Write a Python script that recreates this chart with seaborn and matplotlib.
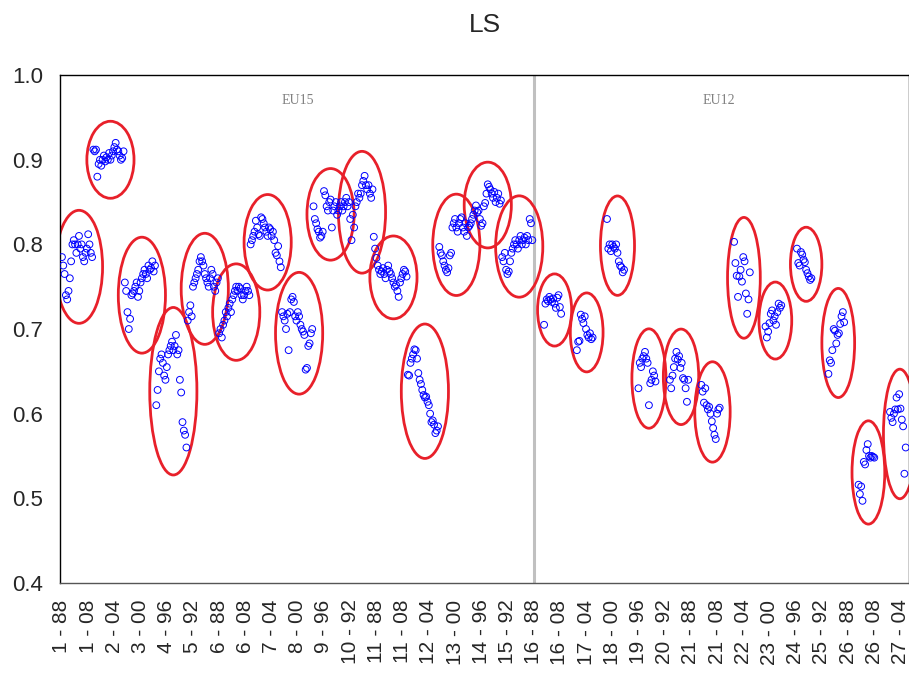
import numpy as np
import pandas as pd
import matplotlib
matplotlib.use("Agg")
import matplotlib.pyplot as plt
from matplotlib.patches import Ellipse
import seaborn as sns

# ---------------- data ----------------
years_per_country = 24          # 1988 .. 2011 for every country
base_year = 1988
eu15_countries = list(range(1, 16))
eu12_countries = list(range(16, 28))

# first observed year of each country
first_year = {c: 1988 for c in eu15_countries}
first_year.update({16: 1996, 17: 1997, 18: 1996, 19: 1996, 20: 1996, 21: 1996,
                   22: 1997, 23: 1997, 24: 1997, 25: 1997, 26: 1996, 27: 1996})

ls_01 = [0.785, 0.775, 0.765, 0.74, 0.735, 0.745, 0.76, 0.78, 0.80, 0.805, 0.80, 0.79,
         0.80, 0.81, 0.795, 0.80, 0.785, 0.78, 0.79, 0.795, 0.812, 0.80, 0.79, 0.785]
ls_02 = [0.912, 0.91, 0.912, 0.88, 0.895, 0.90, 0.893, 0.90, 0.905, 0.898, 0.903, 0.90,
         0.908, 0.90, 0.905, 0.91, 0.915, 0.92, 0.912, 0.91, 0.905, 0.90, 0.902, 0.91]
ls_03 = [0.755, 0.745, 0.72, 0.70, 0.712, 0.74, 0.742, 0.745, 0.75, 0.755, 0.738, 0.745,
         0.755, 0.76, 0.765, 0.77, 0.765, 0.76, 0.775, 0.77, 0.772, 0.78, 0.768, 0.775]
ls_04 = [0.61, 0.628, 0.65, 0.665, 0.67, 0.66, 0.645, 0.64, 0.655, 0.67, 0.675, 0.68,
         0.685, 0.675, 0.68, 0.693, 0.67, 0.675, 0.64, 0.625, 0.59, 0.58, 0.575, 0.56]
ls_05 = [0.71, 0.72, 0.728, 0.715, 0.75, 0.755, 0.76, 0.765, 0.77, 0.78, 0.785, 0.78,
         0.775, 0.765, 0.76, 0.755, 0.75, 0.76, 0.77, 0.765, 0.75, 0.745, 0.755, 0.76]
ls_06 = [0.695, 0.70, 0.69, 0.705, 0.71, 0.72, 0.715, 0.725, 0.73, 0.72, 0.735, 0.74,
         0.745, 0.75, 0.745, 0.75, 0.748, 0.74, 0.735, 0.74, 0.745, 0.75, 0.745, 0.74]
ls_07 = [0.80, 0.805, 0.81, 0.815, 0.828, 0.82, 0.812, 0.81, 0.832, 0.83, 0.825, 0.82,
         0.815, 0.81, 0.82, 0.818, 0.81, 0.815, 0.805, 0.79, 0.787, 0.798, 0.78, 0.773]
ls_08 = [0.72, 0.715, 0.71, 0.70, 0.718, 0.675, 0.72, 0.735, 0.738, 0.732, 0.715, 0.71,
         0.72, 0.715, 0.705, 0.70, 0.697, 0.693, 0.652, 0.654, 0.68, 0.683, 0.695, 0.70]
ls_09 = [0.845, 0.83, 0.825, 0.818, 0.815, 0.808, 0.81, 0.815, 0.863, 0.858, 0.845, 0.84,
         0.85, 0.853, 0.82, 0.84, 0.845, 0.85, 0.835, 0.84, 0.845, 0.85, 0.84, 0.845]
ls_10 = [0.85, 0.855, 0.845, 0.85, 0.83, 0.805, 0.835, 0.82, 0.845, 0.85, 0.86, 0.855,
         0.86, 0.87, 0.875, 0.881, 0.87, 0.865, 0.87, 0.86, 0.855, 0.865, 0.809, 0.795]
ls_11 = [0.784, 0.775, 0.77, 0.765, 0.768, 0.772, 0.765, 0.76, 0.77, 0.775, 0.768, 0.765,
         0.76, 0.755, 0.75, 0.752, 0.745, 0.738, 0.755, 0.76, 0.765, 0.77, 0.768, 0.762]
ls_12 = [0.646, 0.645, 0.66, 0.665, 0.67, 0.676, 0.675, 0.665, 0.648, 0.64, 0.635, 0.628,
         0.622, 0.619, 0.62, 0.614, 0.61, 0.60, 0.59, 0.592, 0.587, 0.577, 0.58, 0.585]
ls_13 = [0.797, 0.79, 0.787, 0.78, 0.775, 0.77, 0.767, 0.772, 0.787, 0.79, 0.82, 0.825,
         0.83, 0.82, 0.815, 0.825, 0.83, 0.832, 0.82, 0.815, 0.825, 0.81, 0.82, 0.822]
ls_14 = [0.825, 0.83, 0.835, 0.84, 0.846, 0.838, 0.84, 0.83, 0.822, 0.825, 0.845, 0.849,
         0.86, 0.871, 0.868, 0.865, 0.86, 0.855, 0.862, 0.85, 0.855, 0.86, 0.848, 0.852]
ls_15 = [0.785, 0.78, 0.79, 0.77, 0.765, 0.768, 0.78, 0.79, 0.795, 0.80, 0.805, 0.80,
         0.795, 0.805, 0.81, 0.80, 0.805, 0.808, 0.80, 0.81, 0.805, 0.83, 0.825, 0.805]
ls_16 = [0.705, 0.73, 0.735, 0.733, 0.738, 0.735, 0.732, 0.736, 0.73, 0.725, 0.737, 0.74,
         0.726, 0.718]
ls_17 = [0.675, 0.685, 0.686, 0.717, 0.712, 0.707, 0.715, 0.70, 0.693, 0.69, 0.695, 0.688,
         0.69]
ls_18 = [0.83, 0.795, 0.80, 0.792, 0.80, 0.797, 0.795, 0.80, 0.79, 0.78, 0.775, 0.773,
         0.767, 0.77]
ls_19 = [0.63, 0.66, 0.655, 0.665, 0.668, 0.673, 0.665, 0.66, 0.61, 0.636, 0.64, 0.65,
         0.645, 0.638]
ls_20 = [0.64, 0.63, 0.645, 0.655, 0.665, 0.673, 0.664, 0.668, 0.654, 0.66, 0.642, 0.64,
         0.63, 0.614, 0.64]
ls_21 = [0.634, 0.626, 0.613, 0.63, 0.61, 0.605, 0.608, 0.60, 0.591, 0.583, 0.575, 0.57,
         0.60, 0.605, 0.607]
ls_22 = [0.803, 0.778, 0.763, 0.738, 0.762, 0.77, 0.756, 0.785, 0.78, 0.742, 0.718, 0.735,
         0.767]
ls_23 = [0.703, 0.69, 0.697, 0.707, 0.718, 0.722, 0.71, 0.715, 0.705, 0.72, 0.73, 0.725,
         0.728]
ls_24 = [0.795, 0.778, 0.775, 0.791, 0.788, 0.782, 0.779, 0.77, 0.766, 0.762, 0.758, 0.76]
ls_25 = [0.647, 0.663, 0.66, 0.675, 0.70, 0.698, 0.683, 0.693, 0.695, 0.706, 0.715, 0.72,
         0.708]
ls_26 = [0.516, 0.505, 0.514, 0.497, 0.543, 0.54, 0.557, 0.564, 0.55, 0.548, 0.55, 0.549,
         0.548]
ls_27 = [0.602, 0.595, 0.59, 0.60, 0.605, 0.619, 0.605, 0.623, 0.606, 0.593, 0.585, 0.529,
         0.56]

series = {1: ls_01, 2: ls_02, 3: ls_03, 4: ls_04, 5: ls_05, 6: ls_06, 7: ls_07, 8: ls_08,
          9: ls_09, 10: ls_10, 11: ls_11, 12: ls_12, 13: ls_13, 14: ls_14, 15: ls_15,
          16: ls_16, 17: ls_17, 18: ls_18, 19: ls_19, 20: ls_20, 21: ls_21, 22: ls_22,
          23: ls_23, 24: ls_24, 25: ls_25, 26: ls_26, 27: ls_27}

y_ticks = [0.4, 0.5, 0.6, 0.7, 0.8, 0.9, 1.0]
group_labels = ["EU15", "EU12"]

# ---------------- build long table ----------------
rows = []
for c, vals in series.items():
    for k, v in enumerate(vals):
        yr = first_year[c] + k
        obs = (c - 1) * years_per_country + (yr - base_year)
        rows.append({"country": c, "year": yr, "obs": obs, "LS": v})
df = pd.DataFrame(rows)
n_obs = len(series) * years_per_country

# ---------------- plot ----------------
sns.set_style("white")
plt.rcParams["font.family"] = ["Liberation Sans", "DejaVu Sans"]

fig = plt.figure(figsize=(9.09, 6.77), dpi=100)
ax = fig.add_axes([0.066, 0.139, 0.934, 0.750])

sns.scatterplot(data=df, x="obs", y="LS", ax=ax, marker="o", s=24,
                facecolors="none", edgecolor="#0000ff", linewidth=0.7, zorder=3)

# red ellipses round each country's cloud
for c, g in df.groupby("country"):
    x0, x1 = g["obs"].min(), g["obs"].max()
    y0, y1 = g["LS"].min(), g["LS"].max()
    e = Ellipse(((x0 + x1) / 2 + 1.5, (y0 + y1) / 2),
                width=(x1 - x0) + 13, height=(y1 - y0) * 1.15 + 0.045,
                fill=False, edgecolor="#e8202a", linewidth=2.0, zorder=2)
    ax.add_patch(e)

# divider between EU15 and EU12
split = len(eu15_countries) * years_per_country
ax.axvline(split, color="#c0c0c0", linewidth=2.2, zorder=1)
ax.text(split / 2, 0.97, group_labels[0], ha="center", va="center",
        fontsize=10, color="#808080", family=["Liberation Serif", "DejaVu Serif"])
ax.text(split + (n_obs - split) / 2 - 3, 0.97, group_labels[1], ha="center",
        va="center", fontsize=10, color="#808080",
        family=["Liberation Serif", "DejaVu Serif"])

ax.set_xlim(-1.5, n_obs - 1.5)
ax.set_ylim(0.4, 1.0)
ax.set_yticks(y_ticks)
ax.set_yticklabels([f"{t:.1f}" for t in y_ticks])

xt = list(range(0, n_obs, 10))
xl = []
for t in xt:
    if t % 20 == 0:
        c = t // years_per_country + 1
        yr = base_year + t % years_per_country
        xl.append(f"{c} - {yr % 100:02d}")
    else:
        xl.append("")
ax.set_xticks(xt)
ax.set_xticklabels(xl, rotation=90, fontsize=15)
ax.tick_params(axis="y", labelsize=16, direction="out", length=6, width=1,
               color="black", pad=6)
ax.tick_params(axis="x", direction="out", length=7, width=1, color="#444444",
               pad=5)
ax.set_xlabel("")
ax.set_ylabel("")
for s in ax.spines.values():
    s.set_color("black")
    s.set_linewidth(1.0)
ax.spines["bottom"].set_color("#555555")

ax.set_title("LS", fontsize=19, pad=31)

fig.savefig("out.png", dpi=100)
